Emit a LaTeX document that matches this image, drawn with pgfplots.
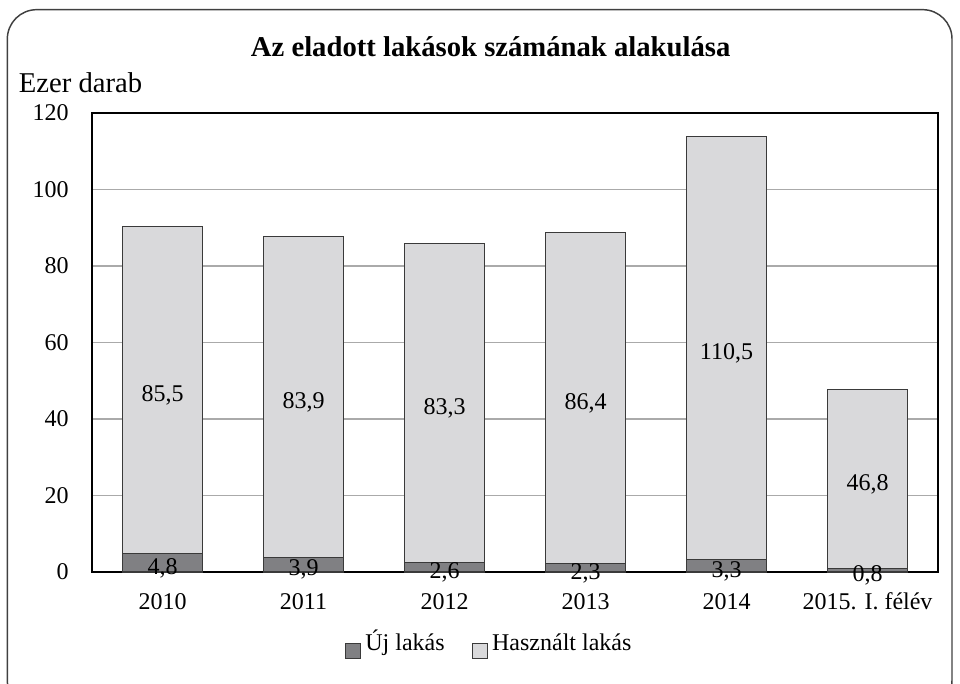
\documentclass[border=0pt]{standalone}
\usepackage{pgfplots}
\pgfplotsset{compat=1.18}
\usepackage{fontspec}
\setmainfont{Liberation Serif}
\definecolor{newc}{HTML}{808083}
\definecolor{usedc}{HTML}{D9D9DB}
\definecolor{gridc}{HTML}{AAAAAA}
\definecolor{edgec}{HTML}{3A3A3A}
\begin{document}
\begin{tikzpicture}
\useasboundingbox (0,0) rectangle (720pt,512.25pt);
\draw[line width=1.1pt, color=black!75, rounded corners=22pt] (5.5pt,-20pt) rectangle (714pt,505pt);
\node[font=\fontsize{21.5}{24}\selectfont\bfseries] at (368pt,477pt) {Az eladott lakások számának alakulása};
\node[anchor=west, font=\fontsize{21.5}{24}\selectfont, inner sep=0pt] at (14pt,450pt) {Ezer darab};
\begin{axis}[
  at={(69pt,83.25pt)}, anchor=south west,
  scale only axis, width=634.5pt, height=344.25pt,
  ybar stacked, bar width=0.573,
  xmin=-0.5, xmax=5.5, ymin=0, ymax=120,
  xtick={0,1,2,3,4,5},
  xticklabels={2010,2011,2012,2013,2014,2015. I. félév},
  ytick={0,20,...,120},
  major tick length=0pt,
  ymajorgrids, grid style={gridc, line width=0.8pt},
  axis line style={black, line width=1pt},
  tick label style={font=\fontsize{18}{21}\selectfont},
  yticklabel style={anchor=east, xshift=-14pt},
  xticklabel style={anchor=center, yshift=-22pt},
  /pgf/number format/assume math mode=true,
  legend columns=2,
  legend style={at={(0.299,-0.159)}, anchor=west, draw=none, inner sep=0pt,
    font=\fontsize{18}{21}\selectfont,
    nodes={inner ysep=2pt, inner xsep=3.5pt, text height=13pt, text depth=4pt, anchor=base west},
    /tikz/every even column/.append style={column sep=17pt}},
  legend image code/.code={\draw[#1, line width=0.6pt] (0pt,-5.6pt) rectangle (11pt,5.4pt);},
  nodes near coords,
  point meta=rawy,
  every node near coord/.append style={anchor=center, yshift=-4pt, font=\fontsize{18}{21}\selectfont,
    /pgf/number format/.cd, fixed, fixed zerofill, precision=1, use comma},
]
\addplot[fill=newc, draw=edgec, line width=0.8pt] coordinates {(0,4.8) (1,3.9) (2,2.6) (3,2.3) (4,3.3) (5,0.8)};
\addlegendentry{Új lakás}
\addplot[fill=usedc, draw=edgec, line width=0.8pt] coordinates {(0,85.5) (1,83.9) (2,83.3) (3,86.4) (4,110.5) (5,46.8)};
\addlegendentry{Használt lakás}
\end{axis}
\end{tikzpicture}
\end{document}
